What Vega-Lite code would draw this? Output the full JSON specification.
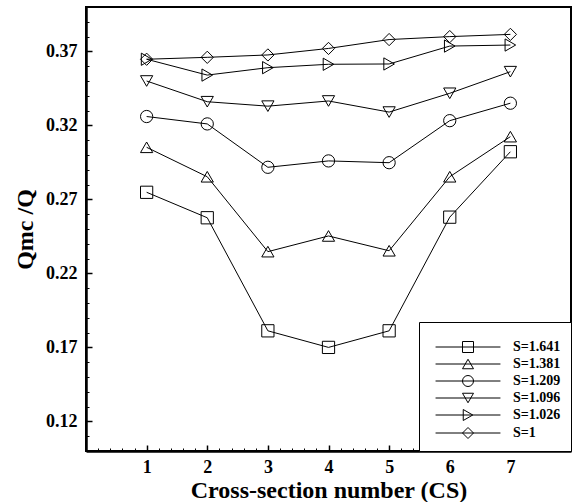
{
  "$schema": "https://vega.github.io/schema/vega-lite/v6.json",
  "width": 485,
  "height": 444,
  "autosize": {"type": "none"},
  "padding": {"left": 86, "top": 7, "right": 2, "bottom": 51},
  "background": "white",
  "config": {"view": {"stroke": "black", "strokeWidth": 2}, "font": "Liberation Serif"},
  "data": {"values": [
    {"cs": 1, "series": "S=1.641", "v": 0.2748},
    {"cs": 2, "series": "S=1.641", "v": 0.2576},
    {"cs": 3, "series": "S=1.641", "v": 0.1812},
    {"cs": 4, "series": "S=1.641", "v": 0.1700},
    {"cs": 5, "series": "S=1.641", "v": 0.1812},
    {"cs": 6, "series": "S=1.641", "v": 0.2580},
    {"cs": 7, "series": "S=1.641", "v": 0.3022},
    {"cs": 1, "series": "S=1.381", "v": 0.3052},
    {"cs": 2, "series": "S=1.381", "v": 0.2853},
    {"cs": 3, "series": "S=1.381", "v": 0.2347},
    {"cs": 4, "series": "S=1.381", "v": 0.2453},
    {"cs": 5, "series": "S=1.381", "v": 0.2353},
    {"cs": 6, "series": "S=1.381", "v": 0.2853},
    {"cs": 7, "series": "S=1.381", "v": 0.3124},
    {"cs": 1, "series": "S=1.209", "v": 0.3260},
    {"cs": 2, "series": "S=1.209", "v": 0.3210},
    {"cs": 3, "series": "S=1.209", "v": 0.2917},
    {"cs": 4, "series": "S=1.209", "v": 0.2960},
    {"cs": 5, "series": "S=1.209", "v": 0.2948},
    {"cs": 6, "series": "S=1.209", "v": 0.3232},
    {"cs": 7, "series": "S=1.209", "v": 0.3350},
    {"cs": 1, "series": "S=1.096", "v": 0.3500},
    {"cs": 2, "series": "S=1.096", "v": 0.3360},
    {"cs": 3, "series": "S=1.096", "v": 0.3330},
    {"cs": 4, "series": "S=1.096", "v": 0.3365},
    {"cs": 5, "series": "S=1.096", "v": 0.3290},
    {"cs": 6, "series": "S=1.096", "v": 0.3417},
    {"cs": 7, "series": "S=1.096", "v": 0.3563},
    {"cs": 1, "series": "S=1.026", "v": 0.3647},
    {"cs": 2, "series": "S=1.026", "v": 0.3540},
    {"cs": 3, "series": "S=1.026", "v": 0.3590},
    {"cs": 4, "series": "S=1.026", "v": 0.3613},
    {"cs": 5, "series": "S=1.026", "v": 0.3615},
    {"cs": 6, "series": "S=1.026", "v": 0.3736},
    {"cs": 7, "series": "S=1.026", "v": 0.3743},
    {"cs": 1, "series": "S=1", "v": 0.3647},
    {"cs": 2, "series": "S=1", "v": 0.3660},
    {"cs": 3, "series": "S=1", "v": 0.3676},
    {"cs": 4, "series": "S=1", "v": 0.3720},
    {"cs": 5, "series": "S=1", "v": 0.3780},
    {"cs": 6, "series": "S=1", "v": 0.3800},
    {"cs": 7, "series": "S=1", "v": 0.3815}
  ]},
  "resolve": {"axis": {"x": "independent", "y": "independent"}, "scale": {"shape": "independent"}},
  "layer": [
    {
      "mark": {"type": "line", "color": "black", "strokeWidth": 1},
      "encoding": {
        "x": {"field": "cs", "type": "quantitative",
          "scale": {"domain": [0, 8], "nice": false, "zero": false},
          "axis": {"orient": "bottom", "values": [1, 2, 3, 4, 5, 6, 7], "format": "d",
            "ticks": false, "tickSize": 0, "grid": false,
            "domain": true, "domainColor": "black", "domainWidth": 2.5,
            "labelFont": "Liberation Serif", "labelFontSize": 18, "labelFontWeight": "bold", "labelColor": "black", "labelPadding": 7,
            "title": "Cross-section number (CS)", "titleFont": "Liberation Serif", "titleFontSize": 24, "titleFontWeight": "bold", "titleColor": "black", "titlePadding": 2}},
        "y": {"field": "v", "type": "quantitative",
          "scale": {"domain": [0.10, 0.40], "nice": false, "zero": false},
          "axis": {"orient": "left", "values": [0.12, 0.17, 0.22, 0.27, 0.32, 0.37], "format": ".2f",
            "ticks": false, "tickSize": 0, "grid": false,
            "domain": true, "domainColor": "black", "domainWidth": 2.5,
            "labelFont": "Liberation Serif", "labelFontSize": 18, "labelFontWeight": "bold", "labelColor": "black", "labelPadding": 9,
            "title": "Qmc /Q", "titleFont": "Liberation Serif", "titleFontSize": 24, "titleFontWeight": "bold", "titleColor": "black", "titlePadding": 8}},
        "detail": {"field": "series", "type": "nominal"}
      }
    },
    {
      "mark": {"type": "point", "filled": false, "stroke": "black", "strokeWidth": 1, "size": 150, "opacity": 1},
      "encoding": {
        "x": {"field": "cs", "type": "quantitative",
          "axis": {"orient": "bottom", "values": [1, 2, 3, 4, 5, 6, 7], "labels": false, "domain": false, "grid": false, "title": null,
            "ticks": true, "tickSize": 6, "tickWidth": 1.5, "tickColor": "black", "offset": -6}},
        "y": {"field": "v", "type": "quantitative",
          "axis": {"orient": "left", "values": [0.12, 0.17, 0.22, 0.27, 0.32, 0.37], "labels": false, "domain": false, "grid": false, "title": null,
            "ticks": true, "tickSize": 6, "tickWidth": 1.5, "tickColor": "black", "offset": -6}},
        "shape": {"field": "series", "type": "nominal",
          "scale": {"domain": ["S=1.641", "S=1.381", "S=1.209", "S=1.096", "S=1.026", "S=1"],
                    "range": ["square", "triangle-up", "circle", "triangle-down", "triangle-right", "diamond"]},
          "legend": null}
      }
    },
    {
      "mark": {"type": "point", "opacity": 0},
      "encoding": {
        "x": {"field": "cs", "type": "quantitative",
          "axis": {"orient": "bottom", "values": [0.2, 0.4, 0.6, 0.8, 1.2, 1.4, 1.6, 1.8, 2.2, 2.4, 2.6, 2.8, 3.2, 3.4, 3.6, 3.8, 4.2, 4.4, 4.6, 4.8, 5.2, 5.4, 5.6, 5.8, 6.2, 6.4, 6.6, 6.8, 7.2, 7.4, 7.6, 7.8],
            "labels": false, "domain": false, "grid": false, "title": null,
            "ticks": true, "tickSize": 3, "tickWidth": 1, "tickColor": "black", "offset": -3}},
        "y": {"field": "v", "type": "quantitative",
          "axis": {"orient": "left", "values": [0.11, 0.13, 0.14, 0.15, 0.16, 0.18, 0.19, 0.20, 0.21, 0.23, 0.24, 0.25, 0.26, 0.28, 0.29, 0.30, 0.31, 0.33, 0.34, 0.35, 0.36, 0.38, 0.39],
            "labels": false, "domain": false, "grid": false, "title": null,
            "ticks": true, "tickSize": 3, "tickWidth": 1, "tickColor": "black", "offset": -3}}
      }
    },
    {
      "transform": [{"filter": "datum.cs > 100"}],
      "mark": {"type": "point", "filled": false, "color": "black", "strokeWidth": 1, "size": 121, "opacity": 1},
      "encoding": {
        "shape": {"field": "series", "type": "nominal",
          "scale": {"domain": ["S=1.641", "S=1.381", "S=1.209", "S=1.096", "S=1.026", "S=1"],
                    "range": ["M-5.9,0H5.9M-1,-1H1V1H-1Z", "M-5.9,0H5.9M0,-0.866L1,0.866H-1Z", "M-5.9,0H5.9M1,0A1,1,0,1,1,-1,0A1,1,0,1,1,1,0Z", "M-5.9,0H5.9M0,0.866L-1,-0.866H1Z", "M-5.9,0H5.9M0.866,0L-0.866,-1V1Z", "M-5.9,0H5.9M-1,0L0,-1L1,0L0,1Z"]},
          "legend": {
            "orient": "bottom-right", "offset": 0, "padding": 10,
            "strokeColor": "black", "fillColor": "white",
            "title": " ", "titleFontSize": 6, "titlePadding": 2,
            "labelFont": "Liberation Serif", "labelFontSize": 14, "labelFontWeight": "bold", "labelColor": "black",
            "symbolSize": 121, "symbolOffset": 32, "labelOffset": 38, "rowPadding": 2,
            "symbolStrokeWidth": 1, "symbolStrokeColor": "black", "symbolFillColor": "transparent", "symbolOpacity": 1
          }}
      }
    }
  ]
}
